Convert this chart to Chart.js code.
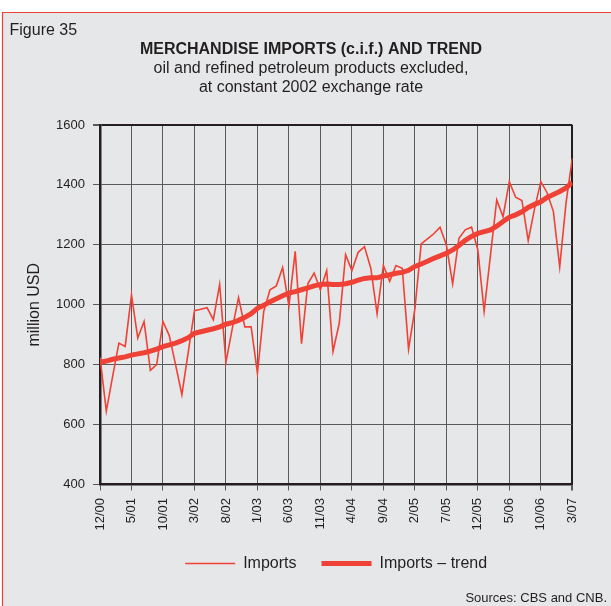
<!DOCTYPE html>
<html>
<head>
<meta charset="utf-8">
<title>Merchandise imports and trend</title>
<script src="https://cdn.jsdelivr.net/npm/chart.js@4.4.1/dist/chart.umd.min.js"></script>
<style>
  html, body { margin: 0; padding: 0; background: #fff; }
  canvas { display: block; }
</style>
</head>
<body>
<canvas id="imports-chart" width="611" height="606"></canvas>
<script>
// ----------------------------------------
// Data: monthly, 12/2000 .. 3/2007 (million USD)
// ----------------------------------------
const tickLabels = ['12/00','5/01','10/01','3/02','8/02','1/03','6/03','11/03',
                    '4/04','9/04','2/05','7/05','12/05','5/06','10/06','3/07'];

const imports = [
    825, 645, 760, 872, 861, 1033, 889, 944, 781, 800,
    944, 897, 800, 700, 840, 980, 985, 990, 950, 1068,
    808, 920, 1024, 926, 926, 772, 978, 1050, 1063, 1124,
    997, 1178, 870, 1070, 1106, 1050, 1114, 844, 939, 1167,
    1114, 1175, 1194, 1122, 970, 1131, 1078, 1131, 1122, 852,
    985, 1203, 1220, 1237, 1259, 1200, 1070, 1222, 1250, 1259,
    1183, 978, 1165, 1350, 1294, 1411, 1359, 1348, 1214, 1320,
    1411, 1374, 1311, 1126, 1339, 1489
];

const importsTrend = [
    808, 812, 818, 822, 826, 832, 836, 840, 845, 852,
    860, 866, 872, 880, 890, 905, 910, 915, 920, 926,
    935, 940, 948, 958, 970, 988, 998, 1010, 1020, 1030,
    1039, 1044, 1050, 1056, 1063, 1068, 1069, 1068, 1068, 1070,
    1075, 1082, 1088, 1090, 1090, 1096, 1100, 1105, 1108, 1115,
    1128, 1136, 1145, 1155, 1163, 1172, 1183, 1198, 1215, 1228,
    1238, 1244, 1250, 1262, 1278, 1292, 1300, 1310, 1325, 1335,
    1344, 1358, 1368, 1378, 1390, 1408
];

const RED = '#ef4136';
const TEXT = '#231f20';
const GRID = '#5a5a5a';
const FRAME = '#231f20';

Chart.defaults.font.family = "'Liberation Sans', Arial, sans-serif";
Chart.defaults.color = TEXT;

// grey panel with red frame on top / left
const panelBackground = {
    id: 'panelBackground',
    beforeDraw(chart) {
        const { ctx, width, height } = chart;
        ctx.save();
        ctx.fillStyle = '#ffffff';
        ctx.fillRect(0, 0, width, height);
        ctx.fillStyle = '#e6e7e8';
        ctx.fillRect(2, 12, width, height);
        ctx.strokeStyle = RED;
        ctx.lineWidth = 1.2;
        ctx.beginPath();
        ctx.moveTo(2.5, height);
        ctx.lineTo(2.5, 12.5);
        ctx.lineTo(width, 12.5);
        ctx.stroke();
        ctx.restore();
    }
};

// figure number and source note
const extraText = {
    id: 'extraText',
    afterDraw(chart) {
        const { ctx } = chart;
        ctx.save();
        ctx.fillStyle = TEXT;
        ctx.textBaseline = 'alphabetic';
        ctx.font = "16px 'Liberation Sans', Arial, sans-serif";
        ctx.textAlign = 'left';
        ctx.fillText('Figure 35', 9.5, 35);
        ctx.font = "13px 'Liberation Sans', Arial, sans-serif";
        ctx.textAlign = 'right';
        ctx.fillText('Sources: CBS and CNB.', 607, 602);
        ctx.restore();
    }
};

const toPoints = arr => arr.map((v, i) => ({ x: i, y: v }));

new Chart(document.getElementById('imports-chart'), {
    type: 'line',
    data: {
        datasets: [
            { label: 'Imports', data: toPoints(imports), borderColor: RED, backgroundColor: RED,
              borderWidth: 1.6, pointRadius: 0, pointStyle: 'line', tension: 0 },
            { label: 'Imports \u2013 trend', data: toPoints(importsTrend), borderColor: RED, backgroundColor: RED,
              borderWidth: 5, pointRadius: 0, pointStyle: 'line', tension: 0 }
        ]
    },
    options: {
        responsive: false,
        animation: false,
        events: [],
        // left padding keeps the titles centred on the panel, not on the plot
        layout: { padding: { top: 0, left: 49.7, right: 38.7, bottom: 24.5 } },
        plugins: {
            title: {
                display: true,
                text: 'MERCHANDISE IMPORTS (c.i.f.) AND TREND',
                color: TEXT,
                font: { size: 16, weight: 'bold', lineHeight: 1.2 },
                padding: { top: 39.9, bottom: 0 }
            },
            subtitle: {
                display: true,
                text: ['oil and refined petroleum products excluded,', 'at constant 2002 exchange rate'],
                color: TEXT,
                font: { size: 16, lineHeight: 1.15 },
                padding: { top: 0.5, bottom: 28.6 }
            },
            legend: {
                position: 'bottom',
                fullSize: false,
                labels: {
                    usePointStyle: true,
                    pointStyleWidth: 50,
                    padding: 25,
                    color: TEXT,
                    font: { size: 16 }
                }
            },
            tooltip: { enabled: false }
        },
        scales: {
            x: {
                type: 'linear',
                min: 0,
                max: 75,
                afterFit: s => { s.height = 46; },
                ticks: {
                    stepSize: 5,
                    maxTicksLimit: 20,
                    autoSkip: false,
                    minRotation: 90,
                    maxRotation: 90,
                    padding: 7.5,
                    color: TEXT,
                    font: { size: 13 },
                    callback: v => tickLabels[v / 5]
                },
                grid: {
                    color: c => c.tick && c.tick.value === 75 ? FRAME : GRID,
                    lineWidth: c => c.tick && c.tick.value === 75 ? 2 : 1,
                    tickColor: GRID,
                    tickLength: 6
                },
                border: { color: FRAME, width: 2.5 }
            },
            y: {
                min: 400,
                max: 1600,
                afterFit: s => { s.width = 50.3; },
                ticks: {
                    stepSize: 200,
                    padding: 8,
                    color: TEXT,
                    font: { size: 13 },
                    callback: v => String(v)
                },
                grid: {
                    color: c => c.tick && c.tick.value === 1600 ? FRAME : GRID,
                    lineWidth: c => c.tick && c.tick.value === 1600 ? 2 : 1,
                    tickColor: GRID,
                    tickLength: 7
                },
                border: { color: FRAME, width: 2.5 },
                title: {
                    display: true,
                    text: 'million USD',
                    color: TEXT,
                    font: { size: 16, lineHeight: 1.2 },
                    // pulls the axis title out into the left margin
                    padding: { top: -24.3, bottom: 0 }
                }
            }
        }
    },
    plugins: [panelBackground, extraText]
});
</script>
</body>
</html>
